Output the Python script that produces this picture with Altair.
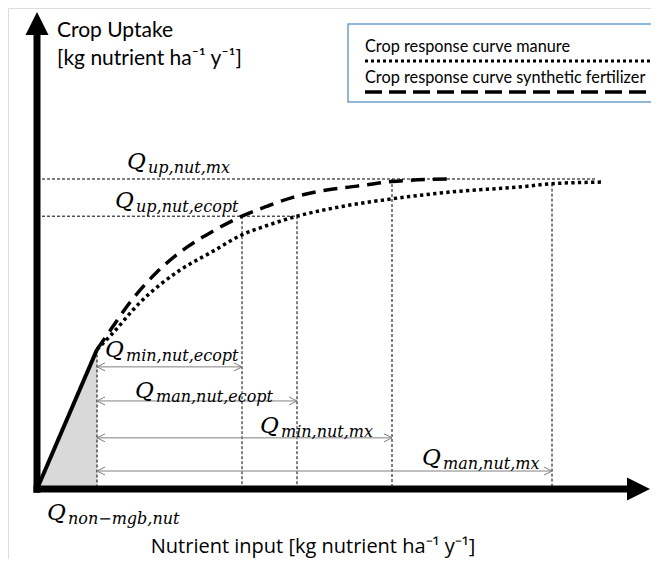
import altair as alt
import pandas as pd

# ---- conceptual values (x: nutrient input units, y: crop uptake units) ----
fert_x = [24, 30, 37, 48, 60, 70, 82, 92, 102, 114, 128, 142, 164]
fert_y = [45, 52, 60, 70, 78, 83, 88, 91.2, 94, 96.2, 97.7, 99.2, 100]
man_x = [24, 30, 41, 57, 70, 82, 92, 104, 121, 141, 168, 194, 206, 226]
man_y = [45, 50, 60, 70.5, 76.5, 82, 85, 88, 91, 93.5, 96, 97.5, 98.5, 99]

q_non = 24          # Q_non-mgb,nut
y_non = 45          # uptake at Q_non-mgb,nut
q_points = [82, 104, 142, 206]          # min ecopt, man ecopt, min mx, man mx
q_tops = [88, 88, 100, 98.5]
up_levels = [100, 88]                   # Q_up,nut,mx ; Q_up,nut,ecopt
up_ends = [224, 104]
arrow_y = [39.4, 28.4, 16.5, 5.8]

label_subs = ["up,nut,mx", "up,nut,ecopt", "min,nut,ecopt", "man,nut,ecopt",
              "min,nut,mx", "man,nut,mx", "non\u2212mgb,nut"]
label_x = [36, 31.2, 27.2, 39.2, 89.2, 154, 4]
label_y = [103.2, 90.6, 42.6, 29.4, 18.1, 7.7, -10]

legend_labels = ["Crop response curve manure", "Crop response curve synthetic fertilizer"]

W, H = 643, 551
PXX, PXY = 2.5, 3.1
OX, OY = 29, 481
xs = alt.Scale(domain=[-OX / PXX, (W - OX) / PXX], nice=False, zero=False)
ys = alt.Scale(domain=[-(H - OY) / PXY, OY / PXY], nice=False, zero=False)

def X(f="x"):
    return alt.X(f + ":Q", scale=xs, axis=None)

def Y(f="y"):
    return alt.Y(f + ":Q", scale=ys, axis=None)

# grey triangle below initial linear part
tri = pd.DataFrame({"x": [0, q_non], "y": [0, y_non]})
area = alt.Chart(tri).mark_area(color="#d9d9d9", opacity=1).encode(x=X(), y=Y())
lin = alt.Chart(tri).mark_line(color="black", strokeWidth=4).encode(x=X(), y=Y())

fert = alt.Chart(pd.DataFrame({"x": fert_x, "y": fert_y})).mark_line(
    color="black", strokeWidth=3.5, strokeDash=[14, 8], interpolate="monotone"
).encode(x=X(), y=Y())
man = alt.Chart(pd.DataFrame({"x": man_x, "y": man_y})).mark_line(
    color="black", strokeWidth=3.5, strokeDash=[3.3, 3.3], interpolate="monotone"
).encode(x=X(), y=Y())

vdf = pd.DataFrame({"x": [q_non] + q_points, "y": [y_non] + q_tops, "y0": [0] * 5})
vlines = alt.Chart(vdf).mark_rule(color="black", strokeWidth=1, strokeDash=[3, 2]).encode(
    x=X(), y=Y(), y2="y0:Q")
hdf = pd.DataFrame({"y": up_levels, "x": [0, 0], "x2": up_ends})
hlines = alt.Chart(hdf).mark_rule(color="black", strokeWidth=1, strokeDash=[3, 2]).encode(
    x=X(), x2="x2:Q", y=Y())

adf = pd.DataFrame({"y": arrow_y, "x": [q_non] * 4, "x2": q_points})
arules = alt.Chart(adf).mark_rule(color="#808080", strokeWidth=1).encode(x=X(), x2="x2:Q", y=Y())
aleft = alt.Chart(adf).mark_point(shape="M2,-1L0,0L2,1", size=64, filled=False,
                                  color="#808080", strokeWidth=1, opacity=1).encode(x=X(), y=Y())
aright = alt.Chart(adf).mark_point(shape="M-2,-1L0,0L-2,1", size=64, filled=False,
                                   color="#808080", strokeWidth=1, opacity=1).encode(x=X("x2"), y=Y())

ldf = pd.DataFrame({"sub": label_subs, "x": label_x, "y": label_y, "q": ["Q"] * 7})
qtxt = alt.Chart(ldf).mark_text(font="DejaVu Serif", fontStyle="italic", fontSize=23,
                                align="left", baseline="alphabetic", color="black").encode(
    x=X(), y=Y(), text="q:N")
stxt = alt.Chart(ldf).mark_text(font="DejaVu Serif", fontStyle="italic", fontSize=16,
                                align="left", baseline="alphabetic", dx=21, dy=4,
                                color="black").encode(x=X(), y=Y(), text="sub:N")

# axes (thick arrows)
axdf = pd.DataFrame({"x": [-1.4], "x2": [236], "y": [0], "y0": [-1.2], "y2": [146.5]})
xax = alt.Chart(axdf).mark_rule(color="black", strokeWidth=7).encode(x=X(), x2="x2:Q", y=Y())
yax = alt.Chart(axdf).mark_rule(color="black", strokeWidth=7).encode(
    x=alt.X("y:Q", scale=xs, axis=None), y=Y("y0"), y2="y2:Q")
xhead = alt.Chart(pd.DataFrame({"x": [240.6], "y": [0]})).mark_point(
    shape="M1,0L-1,-1L-1,1Z", size=529, filled=True, color="black", opacity=1, strokeWidth=0
).encode(x=X(), y=Y())
yhead = alt.Chart(pd.DataFrame({"x": [0], "y": [150.2]})).mark_point(
    shape="M0,-1L1,1L-1,1Z", size=529, filled=True, color="black", opacity=1, strokeWidth=0
).encode(x=X(), y=Y())

sans = "Lato"
tdf = pd.DataFrame({"t": ["Crop Uptake", "[kg nutrient ha\u207b\u00b9 y\u207b\u00b9]"],
                    "x": [8, 8], "y": [145.8, 136.8]})
ytitle = alt.Chart(tdf).mark_text(font=sans, fontSize=21, align="left", baseline="alphabetic",
                                  color="black").encode(x=X(), y=Y(), text="t:N")
xtdf = pd.DataFrame({"t": ["Nutrient input [kg nutrient ha\u207b\u00b9 y\u207b\u00b9]"],
                     "x": [110.4], "y": [-20.5]})
xtitle = alt.Chart(xtdf).mark_text(font="Open Sans", fontSize=20, align="center",
                                   baseline="alphabetic", color="black").encode(
    x=X(), y=Y(), text="t:N")

# legend box
boxdf = pd.DataFrame({"x": [124.4], "x2": [262], "y": [150], "y2": [124.8]})
box = alt.Chart(boxdf).mark_rect(fill="white", stroke="#6C9FCB", strokeWidth=1.5, clip=True).encode(
    x=X(), x2="x2:Q", y=Y(), y2="y2:Q")
legtxt = alt.Chart(pd.DataFrame({"t": legend_labels, "x": [131.2, 131.2], "y": [141, 131]})).mark_text(
    font=sans, fontSize=16.3, align="left", baseline="alphabetic", color="black").encode(
    x=X(), y=Y(), text="t:N")
legdot = alt.Chart(pd.DataFrame({"x": [131.2], "x2": [262], "y": [138.1]})).mark_rule(
    color="black", strokeWidth=3, strokeDash=[3, 3], clip=True).encode(x=X(), x2="x2:Q", y=Y())
legdash = alt.Chart(pd.DataFrame({"x": [131.2], "x2": [244.8], "y": [128.1]})).mark_rule(
    color="black", strokeWidth=3.5, strokeDash=[17, 7]).encode(x=X(), x2="x2:Q", y=Y())

chart = alt.layer(
    area, hlines, vlines, arules, aleft, aright, fert, man, lin,
    qtxt, stxt, xax, yax, xhead, yhead, ytitle, xtitle, box, legtxt, legdot, legdash
).properties(width=W, height=H, padding=0, autosize=alt.AutoSizeParams(type="none")
).configure_view(stroke=None).configure(background="white")

chart.save("out.html", embed_options={"renderer": "svg", "actions": False})
